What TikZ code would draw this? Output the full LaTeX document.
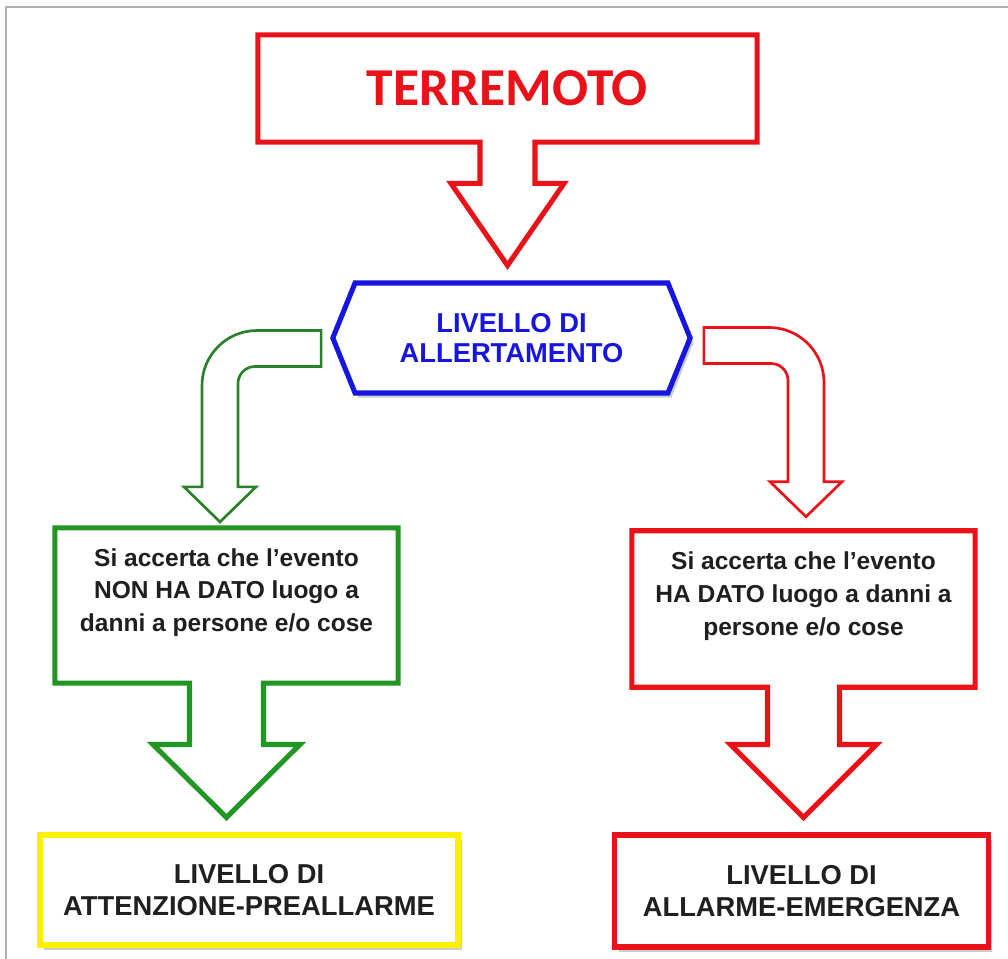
\documentclass[tikz,border=0pt]{standalone}
\usepackage{fontspec}
\setsansfont{Liberation Sans}
\newfontfamily\carlito{Carlito}
\usetikzlibrary{shapes.symbols, shadows, calc}
\definecolor{tred}{RGB}{232,18,24}
\definecolor{tblue}{RGB}{22,22,224}
\definecolor{tgreen}{RGB}{34,150,34}
\definecolor{tdgreen}{RGB}{44,128,44}
\definecolor{tyellow}{RGB}{255,240,0}
\definecolor{tframe}{RGB}{175,175,175}
\tikzset{
  cbox/.style = {rectangle, inner sep=0pt},
  cline/.style = {line width=3.8pt, line join=miter},
  bent/.style = {line width=2pt, line join=miter},
  ctxt/.style = {align=center, inner sep=0pt, text=black!88,
    font=\sffamily\bfseries\fontsize{18.4}{24.5}\selectfont},
  allert/.style = {signal, signal to=west and east, signal pointer angle=136,
    draw=tblue, line width=3.8pt, fill=white, minimum width=268pt,
    minimum height=82.5pt, inner sep=0pt, text=tblue, align=center,
    font=\sffamily\bfseries\fontsize{20.5}{22.5}\selectfont,
    drop shadow={shadow xshift=2.5pt, shadow yshift=-3.5pt, opacity=0.4}},
  level/.style = {rectangle, line width=3.8pt, fill=white, inner sep=0pt,
    align=center, text=black!88,
    font=\sffamily\bfseries\fontsize{20.5}{24}\selectfont,
    drop shadow={shadow xshift=3pt, shadow yshift=-3.5pt, opacity=0.4}},
  frame/.style = {draw=tframe, line width=1.5pt}
}
% box with a block arrow hanging from it, tip just above #2
\newcommand{\blockdown}[6]{% #1 box, #2 target, #3 style, #4 stem half, #5 wing half, #6 head
  \draw[#3] (#1.north west) -- (#1.north east) -- (#1.south east)
    -- ($(#1.south)+(#4,0)$)
    -- ($(#1.south |- #2.north)+(#4,{-15-#6})$)
    -- ($(#1.south |- #2.north)+(#5,{-15-#6})$)
    -- ($(#1.south |- #2.north)+(0,-15)$)
    -- ($(#1.south |- #2.north)+({-#5},{-15-#6})$)
    -- ($(#1.south |- #2.north)+({-#4},{-15-#6})$)
    -- ($(#1.south)+({-#4},0)$)
    -- (#1.south west) -- cycle;
}
% bent block arrow from tail end #1 to tip #2, #3 = -1 left, 1 right
\newcommand{\bentdown}[4]{%
  \draw[#4] ($(#1)+(0,-18)$)
    -- ($(#2 |- #1)+({-37*(#3)},-18)$)
    .. controls ($(#2 |- #1)+({-6.6*(#3)},-18)$) and ($(#2 |- #1)+({18*(#3)},6.6)$)
    .. ($(#2 |- #1)+({18*(#3)},37)$)
    -- ($(#2)+({18*(#3)},-35)$) -- ($(#2)+({36*(#3)},-35)$) -- (#2)
    -- ($(#2)+({-36*(#3)},-35)$) -- ($(#2)+({-18*(#3)},-35)$)
    -- ($(#2 |- #1)+({-18*(#3)},35)$)
    .. controls ($(#2 |- #1)+({-18*(#3)},25.6)$) and ($(#2 |- #1)+({-25.6*(#3)},18)$)
    .. ($(#2 |- #1)+({-35*(#3)},18)$)
    -- ($(#1)+(0,18)$) -- cycle;
}

\begin{document}
\begin{tikzpicture}[x=0.75pt, y=-0.75pt]
  \useasboundingbox (0,0) rectangle (1008,959);
  \fill[white] (0,0) rectangle (1008,959);
  \draw[frame] (1008,7) -- (6,7) -- (6,959);

  \node[cbox, minimum width=374pt, minimum height=80pt, text=tred,
    font=\carlito\bfseries\fontsize{40}{42}\selectfont] (terr) at (507.5,88.5) {TERREMOTO};
  \node[allert] (hex) at (511.5,338) {LIVELLO DI\\ALLERTAMENTO};

  \node[cbox, minimum width=257pt, minimum height=116pt] (gbox) at (226.5,605.5) {};
  \node[ctxt] (gtxt) at (226.5,592.5) {Si accerta che l’evento\\NON HA DATO luogo a\\danni a persone e/o cose};
  \node[cbox, minimum width=257pt, minimum height=117pt] (rbox) at (803.5,609) {};
  \node[ctxt] (rtxt) at (803.5,596) {Si accerta che l’evento\\HA DATO luogo a danni a\\persone e/o cose};

  \node[level, draw=tyellow, minimum width=313.5pt, minimum height=82.5pt] (ylev) at (249,890) {LIVELLO DI\\ATTENZIONE-PREALLARME};
  \node[level, draw=tred, minimum width=280pt, minimum height=84pt] (rlev) at (801.5,891) {LIVELLO DI\\ALLARME-EMERGENZA};

  \blockdown{terr}{hex}{cline, draw=tred}{27.5}{56.5}{82}
  \blockdown{gbox}{ylev}{cline, draw=tgreen}{37}{73.5}{73}
  \blockdown{rbox}{rlev}{cline, draw=tred}{36}{73}{73}

  \coordinate (gtail) at ($(hex.west)+(-9,10.5)$);
  \coordinate (gtip) at ($(gbox.north)+(-6.5,-6)$);
  \coordinate (rtail) at ($(hex.east)+(11,7.5)$);
  \coordinate (rtip) at ($(rbox.north)+(2.5,-14)$);
  \bentdown{gtail}{gtip}{-1}{bent, draw=tdgreen}
  \bentdown{rtail}{rtip}{1}{bent, draw=tred}
\end{tikzpicture}
\end{document}
